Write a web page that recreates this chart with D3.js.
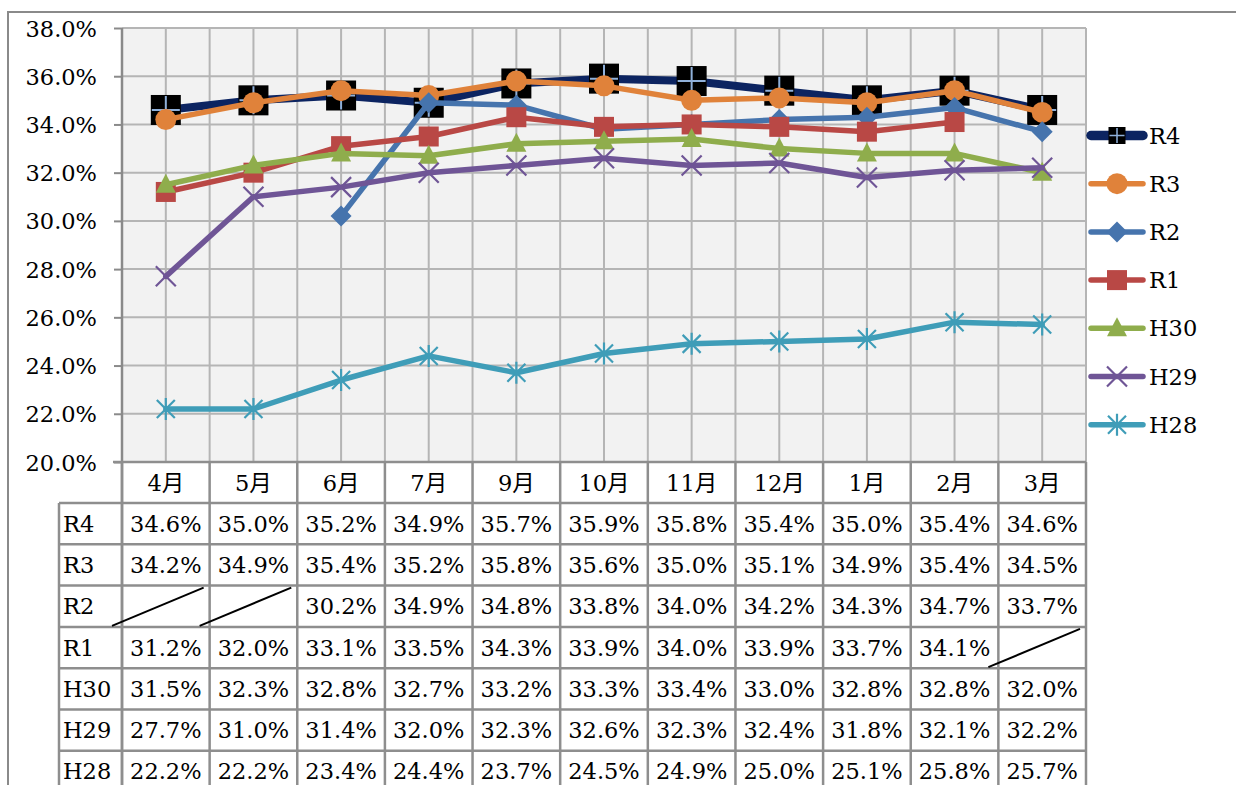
<!DOCTYPE html>
<html>
<head>
<meta charset="utf-8">
<script src="https://cdn.jsdelivr.net/npm/d3@7"></script>
<style>
  body { margin: 0; background: #fff; }
  svg text { font-family: "DejaVu Serif", "Noto Sans CJK JP", serif; font-size: 22.5px; fill: #000; }
</style>
</head>
<body>
<div id="chart"></div>
<script>
// months and series (percent values), null = no data
const months = ["4月", "5月", "6月", "7月", "9月", "10月", "11月", "12月", "1月", "2月", "3月"];
const seriesNames = ["R4", "R3", "R2", "R1", "H30", "H29", "H28"];
const r4  = [34.6, 35.0, 35.2, 34.9, 35.7, 35.9, 35.8, 35.4, 35.0, 35.4, 34.6];
const r3  = [34.2, 34.9, 35.4, 35.2, 35.8, 35.6, 35.0, 35.1, 34.9, 35.4, 34.5];
const r2  = [null, null, 30.2, 34.9, 34.8, 33.8, 34.0, 34.2, 34.3, 34.7, 33.7];
const r1  = [31.2, 32.0, 33.1, 33.5, 34.3, 33.9, 34.0, 33.9, 33.7, 34.1, null];
const h30 = [31.5, 32.3, 32.8, 32.7, 33.2, 33.3, 33.4, 33.0, 32.8, 32.8, 32.0];
const h29 = [27.7, 31.0, 31.4, 32.0, 32.3, 32.6, 32.3, 32.4, 31.8, 32.1, 32.2];
const h28 = [22.2, 22.2, 23.4, 24.4, 23.7, 24.5, 24.9, 25.0, 25.1, 25.8, 25.7];
const yTicks = [20, 22, 24, 26, 28, 30, 32, 34, 36, 38];

const styles = {
  R4:  {color: "#0c2461", width: 8,   marker: "r4"},
  R3:  {color: "#e0823a", width: 5.5, marker: "circle"},
  R2:  {color: "#4674ad", width: 5.5, marker: "diamond"},
  R1:  {color: "#b94845", width: 5.5, marker: "square"},
  H30: {color: "#8fad4c", width: 5.5, marker: "triangle"},
  H29: {color: "#6f5596", width: 5.5, marker: "x"},
  H28: {color: "#3f9db8", width: 5.5, marker: "star"}
};
const values = {R4: r4, R3: r3, R2: r2, R1: r1, H30: h30, H29: h29, H28: h28};

const W = 1236, H = 785;
const plot = {left: 122, right: 1086, top: 28, bottom: 462};
const rowH = 41.3, headerBottom = 503, labelLeft = 59;

const svg = d3.select("#chart").append("svg")
  .attr("width", W).attr("height", H);

// outer chart border
svg.append("rect")
  .attr("x", 8).attr("y", 12).attr("width", W + 10).attr("height", H + 10)
  .attr("fill", "#fff").attr("stroke", "#8a8a8a").attr("stroke-width", 2);

const x = d3.scaleBand().domain(months).range([plot.left, plot.right]);
const y = d3.scaleLinear().domain([20, 38]).range([plot.bottom, plot.top]);
const cx = m => x(m) + x.bandwidth() / 2;

// plot background
svg.append("rect")
  .attr("x", plot.left).attr("y", plot.top)
  .attr("width", plot.right - plot.left).attr("height", plot.bottom - plot.top)
  .attr("fill", "#f2f2f2");

// grid
const grid = svg.append("g").attr("stroke", "#b5b5b5").attr("stroke-width", 2);
grid.selectAll(".hg").data(yTicks).enter().append("line")
  .attr("x1", plot.left).attr("x2", plot.right)
  .attr("y1", d => y(d)).attr("y2", d => y(d));
const vlines = [];
months.forEach(m => { vlines.push(x(m)); vlines.push(cx(m)); });
vlines.push(plot.right);
grid.selectAll(".vg").data(vlines).enter().append("line")
  .attr("x1", d => d).attr("x2", d => d)
  .attr("y1", plot.top).attr("y2", plot.bottom);

// y axis
const yAxis = svg.append("g")
  .attr("transform", `translate(${plot.left},0)`)
  .call(d3.axisLeft(y).tickValues(yTicks).tickSize(8).tickPadding(17)
    .tickFormat(d => d.toFixed(1) + "%"));
yAxis.attr("font-family", null).attr("font-size", null);
yAxis.select(".domain").remove();
yAxis.selectAll("line").attr("stroke", "#8a8a8a").attr("stroke-width", 2);
yAxis.selectAll("text").attr("dy", "0.36em");
svg.append("line")
  .attr("x1", plot.left).attr("x2", plot.left)
  .attr("y1", plot.top).attr("y2", headerBottom + rowH * 7 + 10)
  .attr("stroke", "#8a8a8a").attr("stroke-width", 2.5);

// data table
const tbl = svg.append("g").attr("stroke", "#8e8e8e").attr("stroke-width", 2.5);
tbl.append("line").attr("x1", 113).attr("x2", plot.right)
  .attr("y1", plot.bottom).attr("y2", plot.bottom);
const rowLines = d3.range(8).map(i => headerBottom + i * rowH);
tbl.selectAll(".rl").data(rowLines).enter().append("line")
  .attr("x1", labelLeft).attr("x2", plot.right)
  .attr("y1", d => d).attr("y2", d => d);
tbl.append("line").attr("x1", labelLeft).attr("x2", labelLeft)
  .attr("y1", headerBottom).attr("y2", H + 10);
const colLines = months.map(m => x(m)).concat([plot.right]);
tbl.selectAll(".cl").data(colLines).enter().append("line")
  .attr("x1", d => d).attr("x2", d => d)
  .attr("y1", plot.bottom).attr("y2", H + 10);

// header labels
svg.append("g").selectAll("text").data(months).enter().append("text")
  .attr("x", d => cx(d)).attr("y", (plot.bottom + headerBottom) / 2 + 8)
  .attr("text-anchor", "middle").text(d => d);

// rows
seriesNames.forEach((name, i) => {
  const top = headerBottom + i * rowH, mid = top + rowH / 2 + 8;
  svg.append("text").attr("x", 63).attr("y", mid).text(name);
  values[name].forEach((v, j) => {
    const m = months[j];
    if (v === null) {
      svg.append("line")
        .attr("x1", x(m) - 10).attr("y1", top + rowH - 1)
        .attr("x2", x(m) + x.bandwidth() - 6).attr("y2", top + 2)
        .attr("stroke", "#000").attr("stroke-width", 2);
    } else {
      svg.append("text").attr("x", cx(m)).attr("y", mid)
        .attr("text-anchor", "middle").text(v.toFixed(1) + "%");
    }
  });
});

// markers
function drawMarker(g, type, color, px, py, small) {
  if (type === "r4") {
    const s = small ? 8.5 : 15;
    g.append("rect").attr("x", px - s).attr("y", py - s).attr("width", 2 * s).attr("height", 2 * s).attr("fill", "#000");
    g.append("path").attr("d", `M${px - s + 1},${py}H${px + s - 1}M${px},${py - s + 1}V${py + s - 1}`)
      .attr("stroke", "#8fb0da").attr("stroke-width", small ? 1.5 : 2);
  } else if (type === "circle") {
    g.append("circle").attr("cx", px).attr("cy", py).attr("r", 10.5).attr("fill", color);
  } else if (type === "diamond") {
    g.append("path").attr("d", `M${px},${py - 10.5}L${px + 10.5},${py}L${px},${py + 10.5}L${px - 10.5},${py}Z`).attr("fill", color);
  } else if (type === "square") {
    g.append("rect").attr("x", px - 10).attr("y", py - 10).attr("width", 20).attr("height", 20).attr("fill", color);
  } else if (type === "triangle") {
    g.append("path").attr("d", `M${px},${py - 11}L${px + 10},${py + 8}L${px - 10},${py + 8}Z`).attr("fill", color);
  } else if (type === "x") {
    g.append("path").attr("d", `M${px - 10},${py - 10}L${px + 10},${py + 10}M${px + 10},${py - 10}L${px - 10},${py + 10}`)
      .attr("stroke", color).attr("stroke-width", 2.2);
  } else if (type === "star") {
    g.append("path").attr("d", `M${px - 9},${py - 9}L${px + 9},${py + 9}M${px + 9},${py - 9}L${px - 9},${py + 9}M${px},${py - 11}V${py + 11}`)
      .attr("stroke", color).attr("stroke-width", 2.2);
  }
}

// series lines
const line = d3.line()
  .defined(d => d.v !== null)
  .x(d => cx(d.m)).y(d => y(d.v));
seriesNames.forEach(name => {
  const st = styles[name];
  const pts = values[name].map((v, j) => ({m: months[j], v: v}));
  const g = svg.append("g");
  g.append("path").datum(pts).attr("d", line)
    .attr("fill", "none").attr("stroke", st.color).attr("stroke-width", st.width)
    .attr("stroke-linejoin", "round").attr("stroke-linecap", "round");
  pts.filter(d => d.v !== null).forEach(d => drawMarker(g, st.marker, st.color, cx(d.m), y(d.v), false));
});

// legend
const leg = svg.append("g");
seriesNames.forEach((name, i) => {
  const st = styles[name];
  const ly = 135.5 + i * 48.2;
  const g = leg.append("g");
  g.append("line").attr("x1", 1091).attr("x2", 1143).attr("y1", ly).attr("y2", ly)
    .attr("stroke", st.color).attr("stroke-width", st.width + (name === "R4" ? 1.5 : 0))
    .attr("stroke-linecap", "round");
  drawMarker(g, st.marker, st.color, 1117, ly, true);
  g.append("text").attr("x", 1149).attr("y", ly + 8).text(name);
});
</script>
</body>
</html>
